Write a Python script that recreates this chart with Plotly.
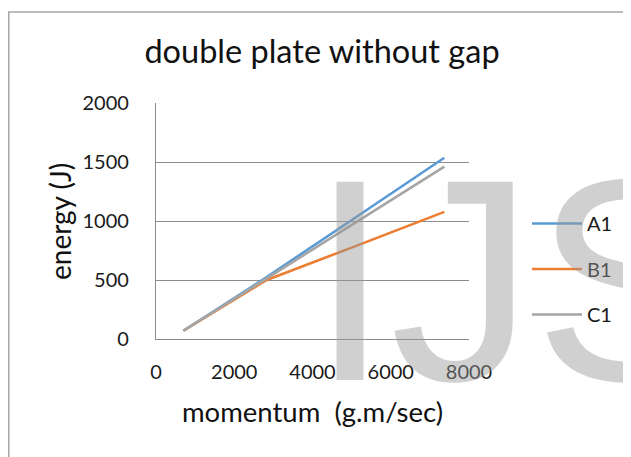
import plotly.graph_objects as go

momentum = [700, 2830, 5100, 7370]
energy_a1 = [70, 525, 1030, 1536]
energy_b1 = [70, 500, 787, 1077]
energy_c1 = [70, 515, 990, 1460]

series_names = ["A1", "B1", "C1"]
series_values = [energy_a1, energy_b1, energy_c1]
series_colors = ["#5B9BD5", "#ED7D31", "#A5A5A5"]

x_ticks = [0, 2000, 4000, 6000, 8000]
y_ticks = [0, 500, 1000, 1500, 2000]

FONT = "Lato"
GRID = "#8C8C8C"
OFF = 8  # page body margin

fig = go.Figure()
for name, vals, col in zip(series_names, series_values, series_colors):
    fig.add_trace(go.Scatter(
        x=momentum, y=vals, name=name, mode="lines",
        line=dict(color=col, width=2.6),
        legendgroup=name,
    ))

W, H = 631 - OFF, 457 - OFF
# plot area in reference pixels: x 156..469, y 103..339
L, T = 156 - OFF, 103 - OFF
R = W - (469 - OFF)
B = H - (339 - OFF)
pw = W - L - R
ph = H - T - B

def px_x(px):
    return (px - 156) / pw

def px_y(py):
    return (339 - py) / ph

fig.update_layout(
    width=W, height=H,
    margin=dict(l=L, r=R, t=T, b=B),
    paper_bgcolor="white", plot_bgcolor="white",
    font=dict(family=FONT, color="#1a1a1a"),
    title=dict(text="double plate without gap", x=(322 - OFF) / W, xanchor="center",
               y=1 - (52 - OFF) / H, yanchor="middle",
               font=dict(size=32.5, family=FONT, color="#111")),
    showlegend=True,
    legend=dict(x=px_x(527), xanchor="left", y=px_y(204), yanchor="top",
                font=dict(size=20, family=FONT, color="#1a1a1a"),
                itemwidth=50,
                tracegroupgap=16.5, bgcolor="rgba(0,0,0,0)", borderwidth=0),
    xaxis=dict(range=[0, 8000], tickvals=x_ticks, showgrid=False, zeroline=False,
               showline=True, linecolor=GRID, linewidth=1.3,
               ticks="outside", ticklen=0, ticklabelstandoff=15,
               tickfont=dict(size=20, family=FONT, color="#1a1a1a"),
               fixedrange=True),
    yaxis=dict(range=[0, 2000], tickvals=y_ticks, showgrid=True, gridcolor=GRID, gridwidth=1.3,
               zeroline=False, showline=True, linecolor=GRID, linewidth=1.3,
               ticks="outside", ticklen=0, ticklabelstandoff=22,
               tickfont=dict(size=20, family=FONT, color="#1a1a1a"),
               fixedrange=True),
)

# axis titles
fig.add_annotation(text="momentum\u00a0 (g.m/sec)", xref="paper", yref="paper",
                   x=px_x(312), xanchor="center", y=px_y(411), yanchor="middle",
                   showarrow=False, font=dict(size=27.5, family=FONT, color="#111"))
fig.add_annotation(text="energy (J)", xref="paper", yref="paper",
                   x=px_x(60), xanchor="center", y=px_y(222), yanchor="middle",
                   textangle=-90,
                   showarrow=False, font=dict(size=28, family=FONT, color="#111"))

# chart border (partially cropped in the reference)
fig.add_shape(type="rect", xref="paper", yref="paper",
              x0=px_x(8.8), x1=px_x(700),
              y0=px_y(520), y1=px_y(12),
              line=dict(color="#A6A6A6", width=1.5), fillcolor="rgba(0,0,0,0)", layer="below")

# watermark
fig.add_annotation(text="IJS", xref="paper", yref="paper",
                   x=px_x(308), xanchor="left",
                   y=px_y(280), yanchor="middle",
                   showarrow=False,
                   font=dict(family="Liberation Sans", size=288, color="rgba(150,150,150,0.45)"))

fig.write_html("out.html")
